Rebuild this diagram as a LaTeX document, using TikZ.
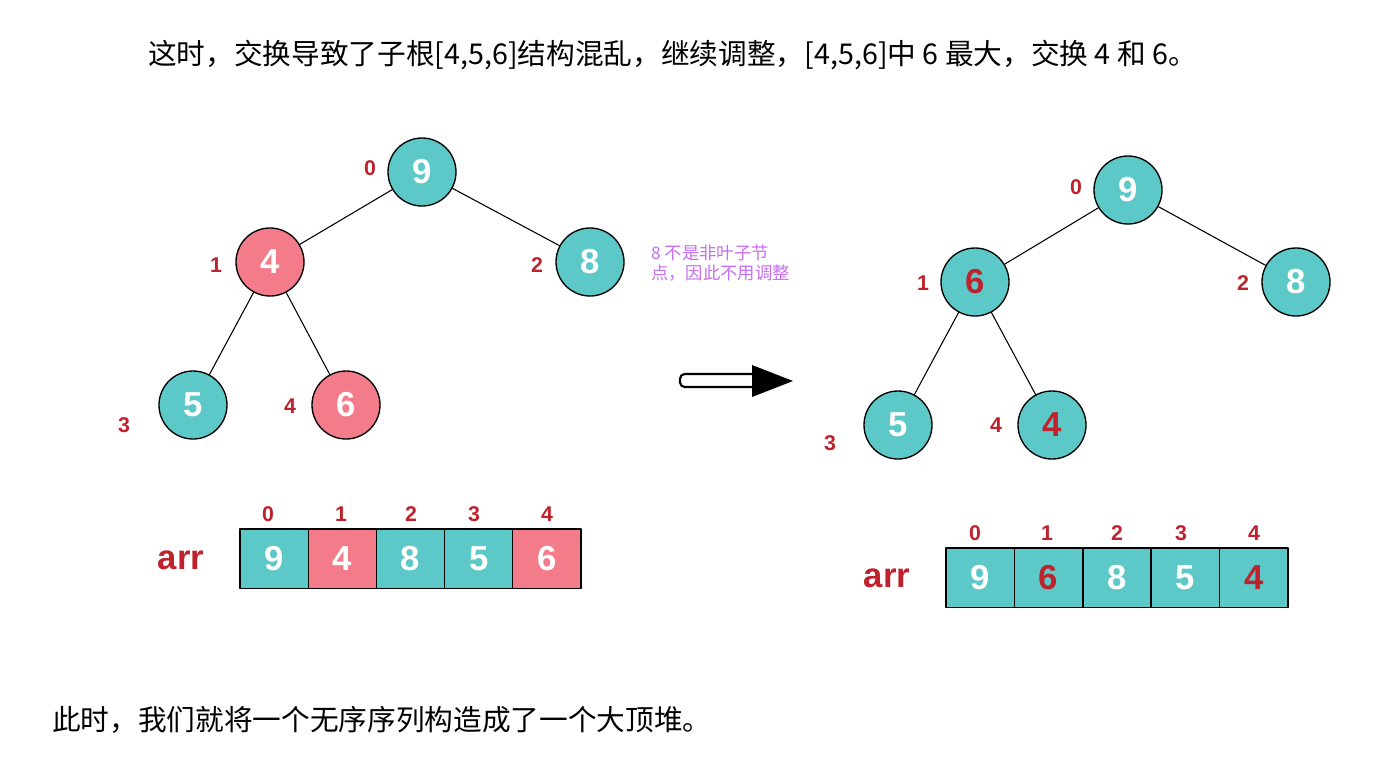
\documentclass[tikz,border=0pt]{standalone}
\usepackage{fontspec}
\setmainfont{Liberation Sans}
\newfontfamily\cjk{Noto Sans CJK SC}
\definecolor{hteal}{RGB}{92,200,200}
\definecolor{hpink}{RGB}{243,123,138}
\definecolor{hred}{RGB}{190,35,45}
\definecolor{hpurple}{RGB}{200,110,240}
\begin{document}
\begin{tikzpicture}[x=0.75pt, y=-0.75pt, line join=round, line cap=round,
	nd/.style={circle, draw, line width=1pt, minimum size=51pt, inner sep=0pt, fill=hteal, text=white, font=\fontsize{26}{26}\selectfont\bfseries},
	hot/.style={fill=hpink},
	idx/.style={text=hred, inner sep=0pt, font=\fontsize{16}{16}\selectfont\bfseries},
	cell/.style={draw, line width=1pt, minimum width=51.2pt, minimum height=44.5pt, inner sep=0pt, text=white, font=\fontsize{26}{26}\selectfont\bfseries}]
	\useasboundingbox[fill=white](0,0)rectangle(1386,772);
	% texts
	\node[anchor=west, inner sep=0pt, font=\cjk\fontsize{21.5}{21.5}\selectfont] (title) at (148,55) {这时，交换导致了子根[4,5,6]结构混乱，继续调整，[4,5,6]中 6 最大，交换 4 和 6。};
	\node[anchor=west, inner sep=0pt, font=\cjk\fontsize{21.5}{21.5}\selectfont] (foot) at (52,720) {此时，我们就将一个无序序列构造成了一个大顶堆。};
	\node[anchor=west, inner sep=0pt, align=left, text=hpurple, font=\cjk\fontsize{13}{15}\selectfont] (note) at (651,263) {8 不是非叶子节\\点，因此不用调整};
	
	% left heap
	\node[nd] (l0) at (422,172) {9};
	\node[nd, hot] (l1) at (270,262) {4};
	\node[nd] (l2) at (590,262) {8};
	\node[nd] (l3) at (193,405) {5};
	\node[nd, hot] (l4) at (346,405) {6};
	\draw[line width=.8pt] (l0)--(l1) (l0)--(l2) (l1)--(l3) (l1)--(l4);
	\node[idx] at (370,168) {0};
	\node[idx] at (216,265) {1};
	\node[idx] at (537,265) {2};
	\node[idx] at (124,425) {3};
	\node[idx] at (290,406) {4};
	
	% right heap
	\node[nd] (r0) at (1128,190) {9};
	\node[nd, text=hred] (r1) at (975,282) {6};
	\node[nd] (r2) at (1296,282) {8};
	\node[nd] (r3) at (898,425) {5};
	\node[nd, text=hred] (r4) at (1052,425) {4};
	\draw[line width=.8pt] (r0)--(r1) (r0)--(r2) (r1)--(r3) (r1)--(r4);
	\node[idx] at (1076,187) {0};
	\node[idx] at (923,283) {1};
	\node[idx] at (1243,283) {2};
	\node[idx] at (830,443) {3};
	\node[idx] at (996,425) {4};
	
	% arrays
	\node[text=hred, font=\fontsize{26}{26}\selectfont\bfseries] (larr) at (181,560) {arr};
	\foreach \v/\f/\t [count=\i from 0] in {9/hteal/white,4/hpink/white,8/hteal/white,5/hteal/white,6/hpink/white}
		\node[cell, fill=\f, text=\t] (la\i) at ({240+34.1+68.2*\i},558.5) {\v};
	\foreach \x [count=\i from 0] in {268,341,411,474,547}
		\node[idx] at (\x,514) {\i};
	\node[text=hred, font=\fontsize{26}{26}\selectfont\bfseries] (rarr) at (887,578) {arr};
	\foreach \v/\t [count=\i from 0] in {9/white,6/hred,8/white,5/white,4/hred}
		\node[cell, fill=hteal, text=\t] (ra\i) at ({946+34.2+68.4*\i},577.5) {\v};
	\foreach \x [count=\i from 0] in {975,1047,1117,1181,1254}
		\node[idx] at (\x,533) {\i};
	
	% arrow
	\draw[line width=1.6pt, fill=white, rounded corners=3.5pt] (680,374) rectangle (758,387);
	\fill (752,365)--(793,381)--(752,397)--cycle;
\end{tikzpicture}
\end{document}
